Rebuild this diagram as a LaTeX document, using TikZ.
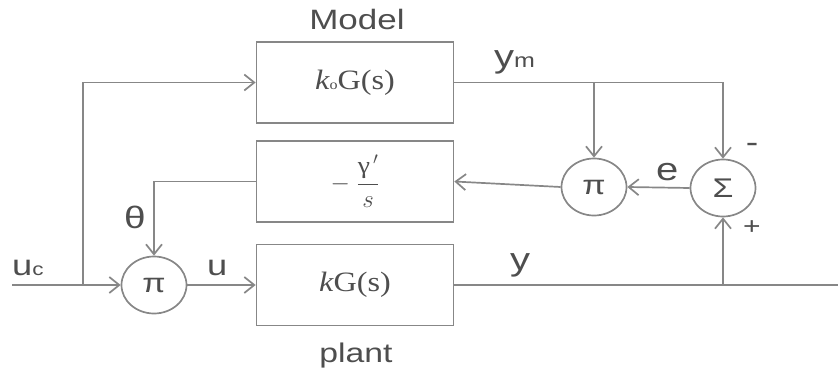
\documentclass[tikz,border=0pt]{standalone}
\usepackage{amsmath}
\usepackage{fontspec}
\setmainfont{Liberation Serif}
\newfontfamily\lblfont[FakeStretch=1.25]{Liberation Sans}
\newfontfamily\blkfont[FakeStretch=1.15]{Liberation Serif}
\usetikzlibrary{arrows.meta,shapes.geometric}
\definecolor{wirecol}{RGB}{135,135,135}
\definecolor{inkcol}{RGB}{78,78,78}

\begin{document}
\begin{tikzpicture}[x=1pt, y=-1pt,
    block/.style={draw=wirecol, line width=1.7pt, minimum width=197pt, minimum height=81pt, inner sep=0pt, text=inkcol, font=\blkfont\fontsize{28}{32}\selectfont},
    junction/.style={ellipse, draw=wirecol, line width=1.7pt, minimum width=65pt, minimum height=57pt, inner sep=0pt, text=inkcol, font=\lblfont\fontsize{27}{31}\selectfont},
    arrow/.style={-{Straight Barb[length=10pt,width=16pt,line width=1.7pt]}, draw=wirecol, line width=1.7pt},
    line/.style={draw=wirecol, line width=1.7pt},
    lbl/.style={text=inkcol, inner sep=0pt, font=\lblfont\fontsize{#1}{#1}\selectfont},
    lbl/.default=28
]
\useasboundingbox (0,0) rectangle (838,369);

% blocks
\node[block] (model) at (355,82.5) {{\itshape k}{\fontsize{14}{14}\selectfont o}G(s)};
\node[block] (gain) at (355,181.5) {\fontsize{24}{28}\selectfont$-\;\dfrac{\text{γ}^{\,\prime}}{s}$};
\node[block] (plant) at (355,285) {{\itshape k}G(s)};

% multipliers and summer
\node[junction] (mulu) at (154,285) {π};
\node[junction] (mule) at (594,187) {π};
\node[junction] (sum) at (723,188) {Σ};

\coordinate (ucin) at (12,285);
\coordinate (yout) at (838,285);
\coordinate (split1) at (83,285);
\coordinate (split2) at (sum.south |- yout);
\coordinate (split3) at (mule.north |- model.east);

\draw[arrow] (ucin) -- (mulu.west);
\draw[arrow] (split1) |- (model.west);
\draw[arrow] (mulu.east) -- (plant.west);
\draw[line] (plant.east) -- (yout);
\draw[arrow] (split2) -- (sum.south);
\draw[arrow] (model.east) -| (sum.north);
\draw[arrow] (split3) -- (mule.north);
\draw[arrow] (sum.west) -- (mule.east);
\draw[arrow] (mule.west) -- (gain.east);
\draw[arrow] (gain.west) -| (mulu.north);

% labels
\node[lbl=28, anchor=base] (modellbl) at (357,30) {Model};
\node[lbl=27, anchor=base] (plantlbl) at (356,362) {plant};
\node[lbl=29, anchor=base west] (uclbl) at (12,275) {u{\fontsize{18}{18}\selectfont c}};
\node[lbl=32, anchor=base west] (ymlbl) at (494,67) {y{\fontsize{20}{20}\selectfont m}};
\node[lbl=29, anchor=base west] (ulbl) at (207,275) {u};
\node[lbl=32, anchor=base west] (ylbl) at (510,270) {y};
\node[lbl=32, anchor=base west] (elbl) at (656,180) {e};
\node[lbl=31] (thetalbl) at (135,217) {θ};
\node[lbl=30] (minuslbl) at (752,148) {-};
\node[lbl=24] (pluslbl) at (752,228) {+};
\end{tikzpicture}
\end{document}
